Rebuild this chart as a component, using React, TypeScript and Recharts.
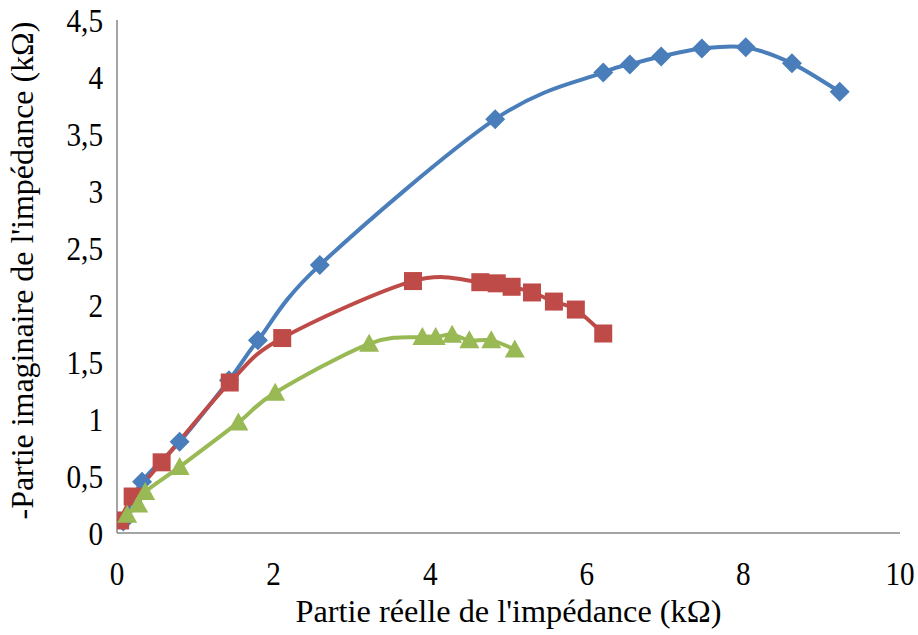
import { Line, LineChart, XAxis, YAxis, Label } from "recharts";

const blueX = [0.08, 0.32, 0.8, 1.43, 1.8, 2.59, 4.83, 6.21, 6.55, 6.95, 7.47, 8.03, 8.62, 9.23];
const blueY = [0.1, 0.45, 0.8, 1.34, 1.69, 2.35, 3.63, 4.04, 4.11, 4.18, 4.25, 4.26, 4.12, 3.87];

const redX = [0.04, 0.2, 0.57, 1.44, 2.11, 3.78, 4.64, 4.85, 5.04, 5.3, 5.58, 5.86, 6.21];
const redY = [0.11, 0.32, 0.62, 1.32, 1.71, 2.21, 2.2, 2.19, 2.16, 2.11, 2.03, 1.96, 1.75];

const greenX = [0.13, 0.27, 0.36, 0.8, 1.55, 2.02, 3.22, 3.9, 4.07, 4.28, 4.5, 4.78, 5.08];
const greenY = [0.16, 0.25, 0.36, 0.58, 0.97, 1.23, 1.66, 1.72, 1.72, 1.74, 1.69, 1.69, 1.61];

const xTicks = [0, 2, 4, 6, 8, 10];
const yTicks = [0, 0.5, 1, 1.5, 2, 2.5, 3, 3.5, 4, 4.5];

const BLUE = "#4A7EBB";
const RED = "#BE4B48";
const GREEN = "#98B954";
const FONT = "'Liberation Serif', 'DejaVu Serif', 'Times New Roman', Times, serif";
const FS = 34;
const TITLE_FS = 31;
const SX = 0.86;

const toPoints = (xs: number[], ys: number[]) => xs.map((x, i) => ({ x, y: ys[i] }));

const blue = toPoints(blueX, blueY);
const red = toPoints(redX, redY);
const green = toPoints(greenX, greenY);

// Excel-like smoothed line (Catmull-Rom as cubic beziers)
const smoothCurve = (context: any) => {
  let pts: number[][] = [];
  return {
    areaStart() {},
    areaEnd() {},
    lineStart() {
      pts = [];
    },
    point(x: number, y: number) {
      pts.push([+x, +y]);
    },
    lineEnd() {
      if (!pts.length) return;
      context.moveTo(pts[0][0], pts[0][1]);
      for (let i = 0; i < pts.length - 1; i++) {
        const p0 = pts[i - 1] || pts[i];
        const p1 = pts[i];
        const p2 = pts[i + 1];
        const p3 = pts[i + 2] || pts[i + 1];
        context.bezierCurveTo(
          p1[0] + (p2[0] - p0[0]) / 6,
          p1[1] + (p2[1] - p0[1]) / 6,
          p2[0] - (p3[0] - p1[0]) / 6,
          p2[1] - (p3[1] - p1[1]) / 6,
          p2[0],
          p2[1]
        );
      }
    },
  };
};

const Diamond = (props: any) => {
  const { cx, cy, key } = props;
  const r = 10;
  return (
    <path
      key={key}
      d={`M${cx},${cy - r}L${cx + r},${cy}L${cx},${cy + r}L${cx - r},${cy}Z`}
      fill={BLUE}
    />
  );
};

const Square = (props: any) => {
  const { cx, cy, key } = props;
  const s = 9;
  return <rect key={key} x={cx - s} y={cy - s} width={s * 2} height={s * 2} fill={RED} />;
};

const Triangle = (props: any) => {
  const { cx, cy, key } = props;
  return (
    <path
      key={key}
      d={`M${cx},${cy - 10}L${cx + 10},${cy + 8}L${cx - 10},${cy + 8}Z`}
      fill={GREEN}
    />
  );
};

const XTick = ({ x, y, payload }: any) => (
  <text
    transform={`translate(${x},${y + 26}) scale(${SX},1)`}
    textAnchor="middle"
    style={{ fontFamily: FONT, fontSize: FS }}
    fill="#000"
  >
    {String(payload.value)}
  </text>
);

const YTick = ({ x, y, payload }: any) => (
  <text
    transform={`translate(${x},${y + 12}) scale(${SX},1)`}
    textAnchor="end"
    style={{ fontFamily: FONT, fontSize: FS }}
    fill="#000"
  >
    {String(payload.value).replace(".", ",")}
  </text>
);

const axisLine = { stroke: "#868686", strokeWidth: 1.5 };

export default function App() {
  return (
    <div style={{ position: "absolute", left: 0, top: 0, background: "#fff", fontFamily: FONT }}>
      <LineChart
        width={918}
        height={635}
        margin={{ top: 20, right: 18, bottom: 0, left: 0 }}
      >
        <XAxis
          type="number"
          dataKey="x"
          domain={[0, 10]}
          ticks={xTicks}
          allowDataOverflow
          tick={<XTick />}
          tickLine={false}
          tickSize={6}
          tickMargin={20}
          axisLine={axisLine}
          height={102}
        >
          <Label
            content={({ viewBox }: any) => (
              <text
                x={viewBox.x + viewBox.width / 2}
                y={622}
                textAnchor="middle"
                style={{ fontFamily: FONT, fontSize: TITLE_FS }}
                textLength={426}
                lengthAdjust="spacingAndGlyphs"
                fill="#000"
              >
                Partie réelle de l'impédance (kΩ)
              </text>
            )}
          />
        </XAxis>
        <YAxis
          type="number"
          dataKey="y"
          domain={[0, 4.5]}
          ticks={yTicks}
          tick={<YTick />}
          tickLine={false}
          tickSize={6}
          tickMargin={8}
          axisLine={axisLine}
          width={117}
        >
          <Label
            content={({ viewBox }: any) => (
              <text
                transform={`translate(33,${viewBox.y + viewBox.height / 2 - 6}) rotate(-90)`}
                textAnchor="middle"
                style={{ fontFamily: FONT, fontSize: TITLE_FS }}
                textLength={498}
                lengthAdjust="spacingAndGlyphs"
                fill="#000"
              >
                -Partie imaginaire de l'impédance (kΩ)
              </text>
            )}
          />
        </YAxis>
        <Line
          data={blue}
          dataKey="y"
          type={smoothCurve as any}
          stroke={BLUE}
          strokeWidth={4}
          dot={Diamond}
          activeDot={false}
          isAnimationActive={false}
        />
        <Line
          data={red}
          dataKey="y"
          type={smoothCurve as any}
          stroke={RED}
          strokeWidth={4}
          dot={Square}
          activeDot={false}
          isAnimationActive={false}
        />
        <Line
          data={green}
          dataKey="y"
          type={smoothCurve as any}
          stroke={GREEN}
          strokeWidth={4}
          dot={Triangle}
          activeDot={false}
          isAnimationActive={false}
        />
      </LineChart>
    </div>
  );
}
